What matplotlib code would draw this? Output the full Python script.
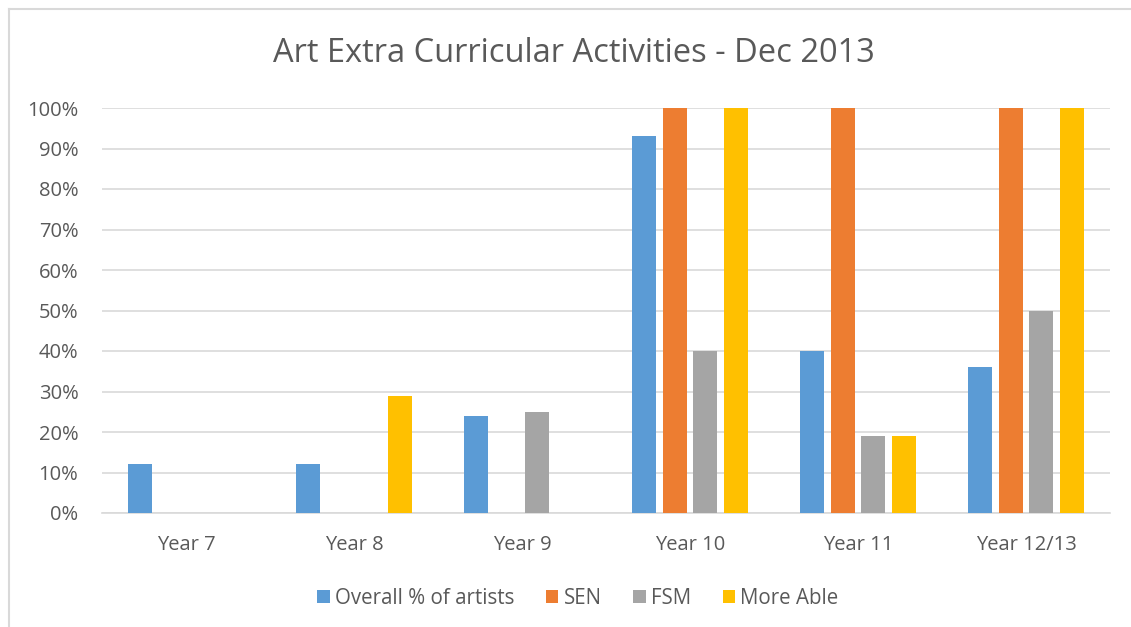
import matplotlib
matplotlib.use("Agg")
import matplotlib.pyplot as plt
import numpy as np
from matplotlib.lines import Line2D

categories = ["Year 7", "Year 8", "Year 9", "Year 10", "Year 11", "Year 12/13"]
series_names = ["Overall % of artists", "SEN", "FSM", "More Able"]
overall = [12, 12, 24, 93, 40, 36]
sen = [0, 0, 0, 100, 100, 100]
fsm = [0, 0, 25, 40, 19, 50]
more_able = [0, 29, 0, 100, 19, 100]
colors = ["#5B9BD5", "#ED7D31", "#A5A5A5", "#FFC000"]
yticks = list(range(0, 101, 10))

plt.rcParams['font.family'] = ['Open Sans', 'DejaVu Sans']
text_color = "#595959"

W, H = 1131, 627
fig = plt.figure(figsize=(W / 100, H / 100), dpi=100)
ax = fig.add_axes([102 / W, 1 - 513 / H, (1110 - 102) / W, (513 - 108) / H])

x = np.arange(len(categories))
bw = 0.143
step = 0.181
data = [overall, sen, fsm, more_able]
for i, (vals, c, name) in enumerate(zip(data, colors, series_names)):
    ax.bar(x + (i - 1.5) * step, vals, width=bw, color=c, label=name, zorder=3)

ax.set_xlim(-0.5, len(categories) - 0.5)
ax.set_ylim(0, 100)
ax.set_yticks(yticks)
ax.set_yticklabels([f"{v}%" for v in yticks], fontsize=14.5, color=text_color)
ax.set_xticks(x)
ax.set_xticklabels(categories, fontsize=14.5, color=text_color)
ax.tick_params(axis='both', length=0)
ax.tick_params(axis='y', pad=17)
ax.tick_params(axis='x', pad=16)
ax.grid(axis='y', color="#D9D9D9", linewidth=1.2, zorder=0)
for s in ["top", "right", "left"]:
    ax.spines[s].set_visible(False)
ax.spines["bottom"].set_color("#D9D9D9")
ax.spines["bottom"].set_linewidth(1.2)

fig.text(574 / W, 1 - 53 / H, "Art Extra Curricular Activities - Dec 2013",
         ha='center', va='center', fontsize=23.5, color=text_color)

leg = fig.legend(loc='center', bbox_to_anchor=(578 / W, 1 - 598 / H), ncol=4,
                 frameon=False, fontsize=14.8, handlelength=0.6, handleheight=0.6,
                 handletextpad=0.25, columnspacing=1.55)
for t in leg.get_texts():
    t.set_color(text_color)

# chart border (top and left visible)
fig.add_artist(Line2D([8.5 / W, 1], [1 - 9 / H, 1 - 9 / H], color="#D9D9D9", lw=1.5))
fig.add_artist(Line2D([8.5 / W, 8.5 / W], [0, 1 - 9 / H], color="#D9D9D9", lw=1.5))

fig.savefig("out.png", dpi=100)
